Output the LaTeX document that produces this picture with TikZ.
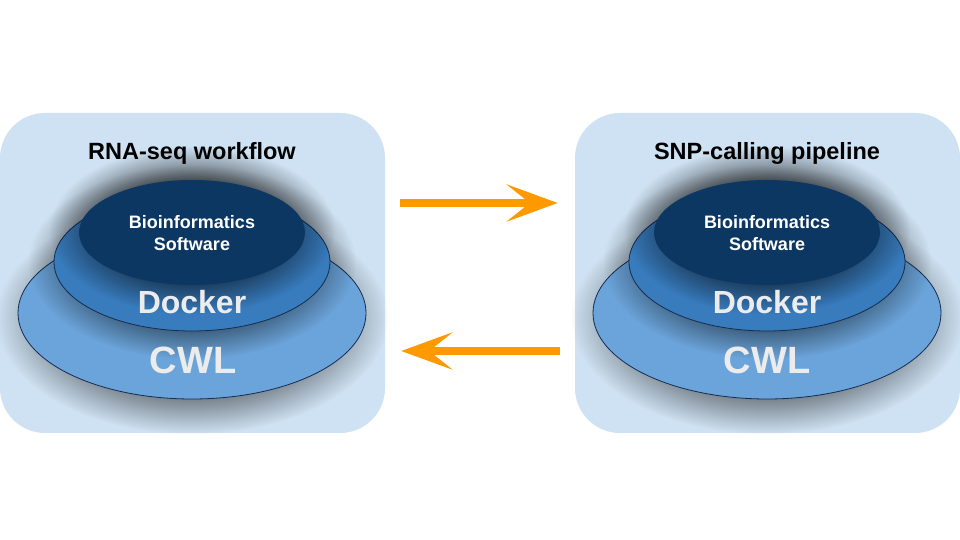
\documentclass[tikz,border=0pt]{standalone}
\usepackage{fontspec}
\setmainfont{Liberation Sans}
\usetikzlibrary{shapes.geometric,arrows.meta,fadings}

\definecolor{panelblue}{RGB}{207,226,243}
\definecolor{biodark}{RGB}{11,55,98}
\definecolor{dockerblue}{RGB}{56,124,190}
\definecolor{cwlblue}{RGB}{107,164,218}
\definecolor{ringline}{RGB}{20,45,80}
\definecolor{arroworange}{RGB}{255,153,0}
\definecolor{labelgray}{RGB}{236,236,236}

% soft dark halo behind each ellipse
\pgfdeclareradialshading{haloshading}{\pgfpointorigin}{color(0bp)=(pgftransparent!0); color(14bp)=(pgftransparent!0); color(25bp)=(pgftransparent!100); color(50bp)=(pgftransparent!100)}
\pgfdeclarefading{halofade}{\pgfuseshading{haloshading}}

\begin{document}
\begin{tikzpicture}[x=1pt,y=1pt,
	panel/.style={rectangle,rounded corners=45pt,fill=panelblue,minimum width=385pt,minimum height=320pt,inner sep=0pt},
	halo/.style={fill=black,path fading=halofade,fill opacity=0.6},
	cwl/.style={ellipse,fill=cwlblue,draw=ringline,line width=0.8pt,minimum width=348pt,minimum height=172pt,inner sep=0pt},
	docker/.style={ellipse,fill=dockerblue,draw=ringline,line width=0.8pt,minimum width=276pt,minimum height=138pt,inner sep=0pt},
	bio/.style={ellipse,fill=biodark,minimum width=226pt,minimum height=105pt,inner sep=0pt},
	title/.style={anchor=base,font=\bfseries\fontsize{23.5}{27}\selectfont},
	biotext/.style={anchor=base,align=center,text=white,font=\bfseries\fontsize{18}{22}\selectfont},
	big/.style={anchor=base,text=labelgray,font=\bfseries\fontsize{32}{38}\selectfont},
	bigger/.style={anchor=base,text=labelgray,font=\bfseries\fontsize{38}{44}\selectfont},
	swap/.style={-{Stealth[length=51pt,width=37pt,inset=23pt]},draw=arroworange,line width=8pt}
	]
	
	\fill[white] (0,0) rectangle (960,540);
	\useasboundingbox (0,0) rectangle (960,540);
	
	% panels
	\node[panel] (rna) at (192.5,267) {};
	\node[panel] (snp) at (767.5,267) {};
	
	% left stack
	\fill[halo] (192,222) ellipse [x radius=196, y radius=116];
	\node[cwl] (rnacwl) at (192,227) {};
	\fill[halo] (192,278) ellipse [x radius=164, y radius=97];
	\node[docker] (rnadocker) at (192,278) {};
	\fill[halo] (192,310) ellipse [x radius=143, y radius=84];
	\node[bio] (rnabio) at (192,307.5) {};
	
	% right stack
	\fill[halo] (767,222) ellipse [x radius=196, y radius=116];
	\node[cwl] (snpcwl) at (767,227) {};
	\fill[halo] (767,278) ellipse [x radius=164, y radius=97];
	\node[docker] (snpdocker) at (767,278) {};
	\fill[halo] (767,310) ellipse [x radius=143, y radius=84];
	\node[bio] (snpbio) at (767,307.5) {};
	
	% labels
	\node[title] (rnatitle) at (192,380) {RNA-seq workflow};
	\node[title] (snptitle) at (767,380) {SNP-calling pipeline};
	\node[biotext] (rnasoft) at (192,289) {Bioinformatics\\Software};
	\node[biotext] (snpsoft) at (767,289) {Bioinformatics\\Software};
	\node[big] (rnadock) at (192,226) {Docker};
	\node[big] (snpdock) at (767,226) {Docker};
	\node[bigger] (rnalang) at (193,166) {CWL};
	\node[bigger] (snplang) at (767,166) {CWL};
	
	% arrows
	\draw[swap,shorten <=15pt,shorten >=17pt] ([yshift=70pt]rna.east) -- ([yshift=70pt]snp.west);
	\draw[swap,shorten <=15pt,shorten >=16pt] ([yshift=-78pt]snp.west) -- ([yshift=-78pt]rna.east);
	
\end{tikzpicture}
\end{document}
